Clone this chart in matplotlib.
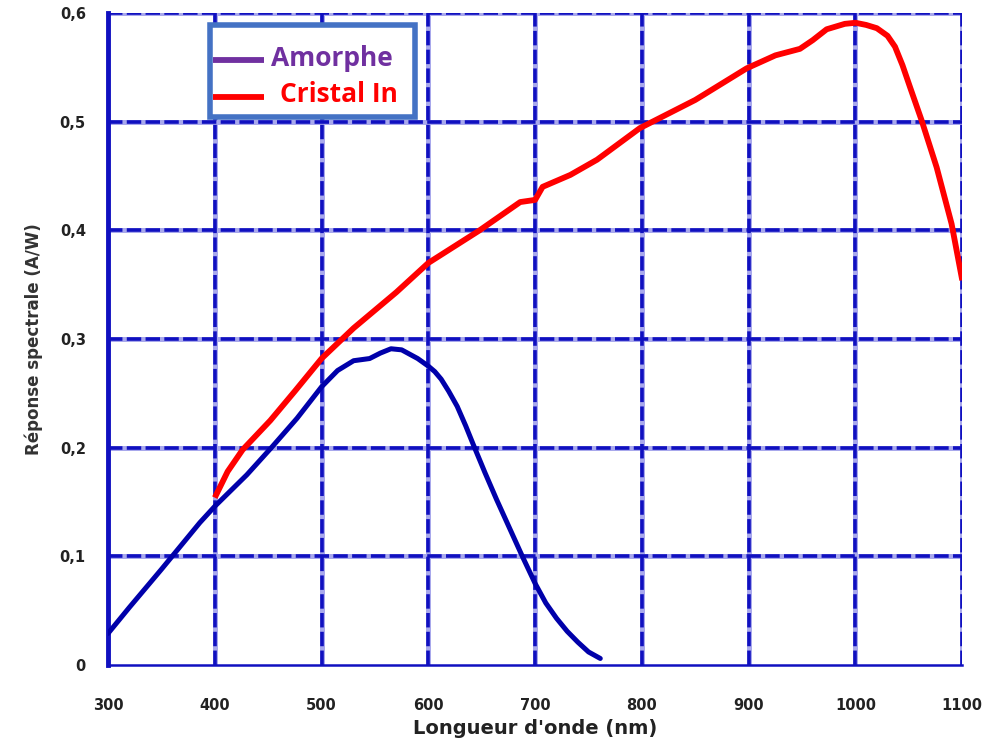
import matplotlib
matplotlib.use("Agg")
import matplotlib.pyplot as plt
from matplotlib.patches import Rectangle

# Data
amorphe_x = [300, 320, 350, 386, 400, 430, 453, 477, 500, 515, 530, 545, 555, 565, 575, 590, 600, 606, 612, 619, 627, 635, 642, 653, 664, 676, 688, 700, 710, 720, 730, 740, 750, 761]
amorphe_y = [0.029, 0.053, 0.088, 0.131, 0.146, 0.175, 0.200, 0.227, 0.256, 0.271, 0.280, 0.282, 0.287, 0.291, 0.290, 0.282, 0.275, 0.270, 0.263, 0.252, 0.238, 0.220, 0.203, 0.177, 0.152, 0.126, 0.100, 0.075, 0.057, 0.043, 0.031, 0.021, 0.012, 0.006]

cristal_x = [400, 412, 426, 452, 475, 500, 530, 570, 600, 648, 686, 700, 707, 733, 758, 798, 850, 898, 925, 948, 960, 973, 990, 1000, 1010, 1020, 1030, 1037, 1044, 1051, 1062, 1076, 1090, 1100]
cristal_y = [0.154, 0.178, 0.198, 0.225, 0.252, 0.282, 0.310, 0.343, 0.370, 0.400, 0.426, 0.428, 0.440, 0.451, 0.465, 0.494, 0.520, 0.549, 0.561, 0.567, 0.575, 0.585, 0.590, 0.591, 0.589, 0.586, 0.579, 0.569, 0.552, 0.532, 0.501, 0.458, 0.406, 0.354]

x_ticks = [300, 400, 500, 600, 700, 800, 900, 1000, 1100]
y_ticks = [0, 0.1, 0.2, 0.3, 0.4, 0.5, 0.6]
y_tick_labels = ["0", "0,1", "0,2", "0,3", "0,4", "0,5", "0,6"]
series_names = ["Amorphe", "Cristal In"]

grid_color = "#1010C0"
grid_light = "#A8A8EC"
blue = "#0000AA"
red = "#FF0000"
purple = "#7030A0"
legend_edge = "#4472C4"

W, H = 991, 742
fig = plt.figure(figsize=(W / 100, H / 100), dpi=100)
ax_left, ax_bottom, ax_w, ax_h = 0.109, 0.1038, 0.862, 0.8787
ax = fig.add_axes([ax_left, ax_bottom, ax_w, ax_h])
ax.set_xlim(300, 1100)
ax.set_ylim(0, 0.6)

# grid: light halo + dark dashes on top
for xv in x_ticks[1:]:
    ax.axvline(xv, color=grid_light, lw=3.6, zorder=1)
    ax.axvline(xv, color=grid_color, lw=2.6, ls=(0, (4, 1.2)), zorder=1.1)
for yv in y_ticks[1:]:
    ax.axhline(yv, color=grid_light, lw=3.6, zorder=1)
    ax.axhline(yv, color=grid_color, lw=2.6, ls=(0, (4, 1.2)), zorder=1.1)

for s in ["top", "right"]:
    ax.spines[s].set_visible(False)
ax.spines["left"].set_color(grid_color)
ax.spines["left"].set_linewidth(3.5)
ax.spines["bottom"].set_color(grid_color)
ax.spines["bottom"].set_linewidth(1.8)

ax.plot(amorphe_x, amorphe_y, color=blue, lw=3.6, zorder=3, solid_capstyle="round", solid_joinstyle="round")
ax.plot(cristal_x, cristal_y, color=red, lw=4.2, zorder=4, solid_capstyle="butt", solid_joinstyle="round")

ax.set_xticks(x_ticks)
ax.set_xticklabels([str(v) for v in x_ticks], fontsize=10.5, fontweight="bold", color="#222222")
ax.set_yticks(y_ticks)
ax.set_yticklabels(y_tick_labels, fontsize=10.5, fontweight="bold", color="#222222")
ax.tick_params(axis="x", length=0, pad=24)
ax.tick_params(axis="y", length=0, pad=16)

ax.set_xlabel("Longueur d'onde (nm)", fontsize=14, fontweight="bold", color="#222222", labelpad=4)
ax.set_ylabel("Réponse spectrale (A/W)", fontsize=12, fontweight="bold", color="#333333", labelpad=12)

# Legend drawn manually in axes-fraction coordinates
def fx(px):
    return (px - ax_left * W) / (ax_w * W)

def fy(py):
    return ((H - py) - ax_bottom * H) / (ax_h * H)

box = Rectangle((fx(210), fy(117)), fx(415) - fx(210), fy(25) - fy(117), transform=ax.transAxes,
                facecolor="white", edgecolor=legend_edge, lw=4, zorder=6, clip_on=False)
ax.add_patch(box)
leg_colors = [purple, red]
leg_rows = [60, 97]
leg_text_x = [271, 280]
for name, col, ry, tx in zip(series_names, leg_colors, leg_rows, leg_text_x):
    ax.plot([fx(213), fx(264)], [fy(ry), fy(ry)], color=col, lw=4.2, transform=ax.transAxes,
            zorder=7, clip_on=False, solid_capstyle="butt")
    ax.text(fx(tx), fy(ry - 2), name, color=col, fontsize=19, fontweight="bold", family="Open Sans",
            ha="left", va="center", transform=ax.transAxes, zorder=7)

fig.savefig("out.png", dpi=100)
